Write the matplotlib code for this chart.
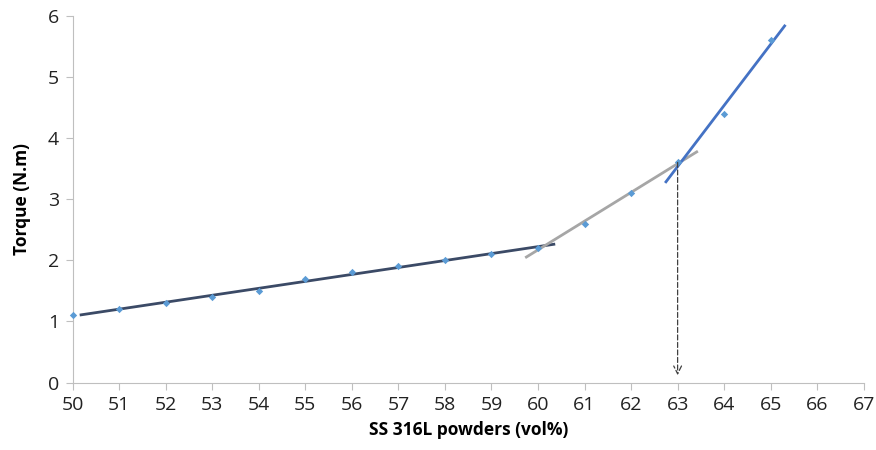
import matplotlib
matplotlib.use("Agg")
import matplotlib.pyplot as plt
import numpy as np

plt.rcParams['font.family'] = ['Open Sans', 'DejaVu Sans']

# data
vol = [50, 51, 52, 53, 54, 55, 56, 57, 58, 59, 60, 61, 62, 63, 64, 65]
torque = [1.1, 1.2, 1.3, 1.4, 1.5, 1.7, 1.8, 1.9, 2.0, 2.1, 2.2, 2.6, 3.1, 3.6, 4.4, 5.6]

# trendline segments: (fit from, fit to, draw from, draw to, colour)
segments = [
    (50, 60, 50.18, 60.34, '#3B4A66'),
    (60, 63, 59.75, 63.41, '#A6A6A6'),
    (63, 65, 62.75, 65.30, '#4472C4'),
]
critical = 63

x = np.array(vol)
y = np.array(torque)

fig = plt.figure(figsize=(8.76, 4.5), dpi=100)
ax = fig.add_axes([0.083, 0.150, 0.903, 0.815])

for a, b, lo, hi, col in segments:
    m = (x >= a) & (x <= b)
    k, c = np.polyfit(x[m], y[m], 1)
    xx = np.array([lo, hi])
    ax.plot(xx, k * xx + c, color=col, lw=2, zorder=2)

ax.scatter(x, y, marker='D', s=14, color='#5B9BD5', zorder=3, linewidths=0, clip_on=False)

yc = torque[vol.index(critical)]
ax.annotate('', xy=(critical, 0.12), xytext=(critical, yc),
            arrowprops=dict(arrowstyle='->', linestyle=(0, (4, 2)), color='#404040',
                            lw=0.9, mutation_scale=14, shrinkA=0, shrinkB=0))

ax.set_xlim(50, 67)
ax.set_ylim(0, 6)
ax.set_xticks(range(50, 68))
ax.set_yticks(range(0, 7))
for s in ['top', 'right']:
    ax.spines[s].set_visible(False)
for s in ['left', 'bottom']:
    ax.spines[s].set_color('#BFBFBF')
ax.tick_params(colors='#BFBFBF', labelcolor='#222222', labelsize=14, length=5, pad=5)

ax.set_xlabel('SS 316L powders (vol%)', fontsize=12.5, fontweight='bold', labelpad=5)
ax.set_ylabel('Torque (N.m)', fontsize=12.5, fontweight='bold', labelpad=12)

fig.savefig('out.png', dpi=100)
